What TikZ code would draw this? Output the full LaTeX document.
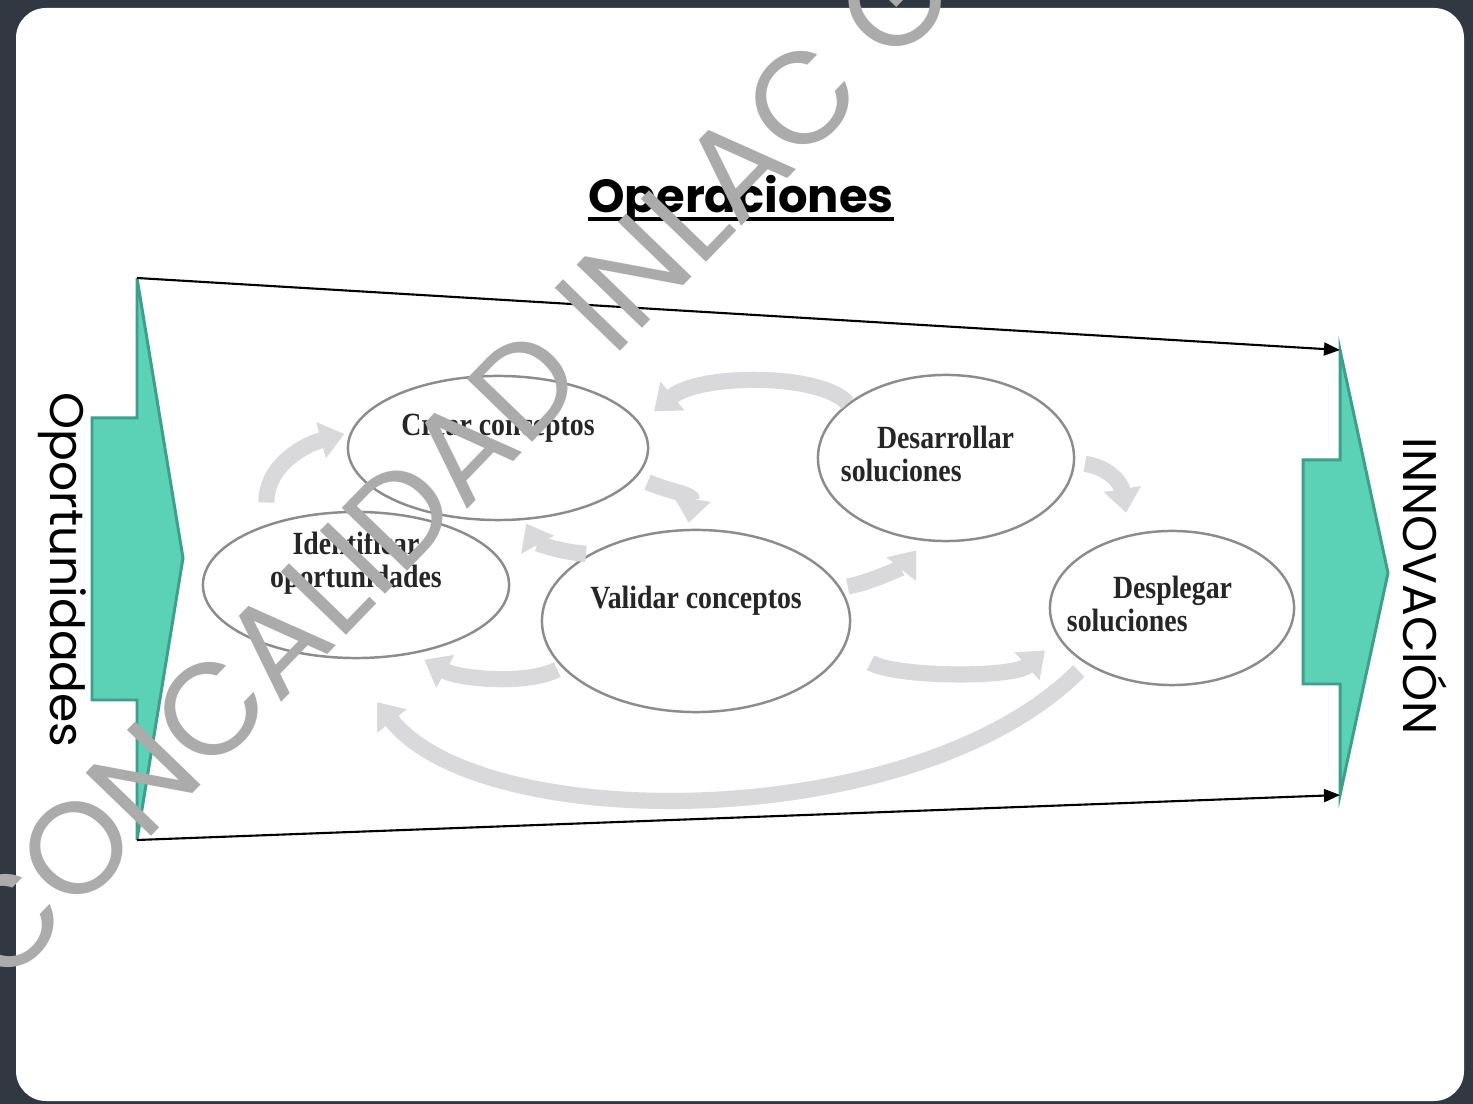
\documentclass[tikz,border=0pt]{standalone}
\usepackage{fontspec}
\usetikzlibrary{shapes.geometric,arrows.meta}
\newfontfamily\gothic{Poppins}
\newfontfamily\boxfont[FakeStretch=0.86]{Liberation Serif}
\definecolor{framedark}{HTML}{323842}
\definecolor{tealfill}{HTML}{5BD1B6}
\definecolor{tealline}{HTML}{3F9F8A}
\definecolor{cyclegray}{HTML}{D9D9DB}
\definecolor{ringgray}{HTML}{8C8C8C}
\definecolor{markgray}{HTML}{ABABAB}

\begin{document}
\begin{tikzpicture}[x = 0.01cm, y = -0.01cm,
                    stage/.style = {ellipse, draw = ringgray, line width = 0.7pt, inner sep = 0pt},
                    stagetext/.style = {font = \boxfont\bfseries\fontsize{9.2}{9.4}\selectfont, text = black!85},
                    cyc/.style = {draw = cyclegray, line width = 4.6pt, -{Triangle[length = 2.4mm, width = 3.6mm]}},
                    flow/.style = {line width = 0.6pt, -{Triangle[length = 1.6mm, width = 1.3mm]}},
                    chevron/.style = {fill = tealfill, draw = tealline, line width = 0.85pt},
                    side/.style = {font = \gothic\fontsize{13.4}{16}\selectfont}]
  \useasboundingbox (0, 0) rectangle (1473, 1104);
  \fill [framedark] (0, 0) rectangle (1473, 1104);
  \fill [white, rounded corners = 3mm] (16, 8) rectangle (1464, 1101);

  % entrada y salida
  \draw [chevron] (137, 278) -- (137, 418) -- (92, 418) -- (92, 700) -- (137, 700) -- (137, 840) -- (183, 558) -- cycle;
  \draw [chevron] (1340, 350) -- (1340, 460) -- (1303, 460) -- (1303, 684) -- (1340, 684) -- (1340, 795) -- (1388, 573) -- cycle;
  \coordinate (LT) at (137, 278);
  \coordinate (LB) at (137, 840);
  \coordinate (RT) at (1340, 350);
  \coordinate (RB) at (1340, 795);
  \draw [flow] (LT) -- (RT);
  \draw [flow] (LB) -- (RB);

  \node [font = \gothic\bfseries\fontsize{13.2}{16}\selectfont, anchor = base, inner sep = 0pt] (title) at (741, 213) {Operaciones};
  \draw [line width = 0.9pt] ([yshift = -0.6mm]title.base west) -- ([yshift = -0.6mm]title.base east);
  \node [side, rotate = -90] (oport) at (62, 570) {Oportunidades};
  \node [side, rotate = -90] (innov) at (1425, 586) {INNOVACIÓN};

  % etapas
  \node [stage, minimum width = 30mm, minimum height = 14.4mm] (crear) at (498, 448) {};
  \node [stage, minimum width = 30.6mm, minimum height = 14.6mm] (ident) at (356, 585) {};
  \node [stage, minimum width = 30.8mm, minimum height = 18.2mm] (valid) at (696, 621) {};
  \node [stage, minimum width = 25.6mm, minimum height = 16.6mm] (desar) at (946, 458) {};
  \node [stage, minimum width = 24.4mm, minimum height = 15.4mm] (despl) at (1172, 608) {};
  \node [stagetext] (crear-t) at ([yshift = 2mm]crear.center) {Crear conceptos};
  \node [stagetext, align = center] (ident-t) at ([yshift = 2.2mm]ident.center) {Identificar\\oportunidades};
  \node [stagetext] (valid-t) at ([yshift = 2mm]valid.center) {Validar conceptos};
  \node [stagetext, align = left] (desar-t) at ([xshift = -1.85mm, yshift = 0.4mm]desar.center) {\hspace{3.6mm}Desarrollar\\soluciones};
  \node [stagetext, align = left] (despl-t) at ([xshift = -2.25mm, yshift = 0.4mm]despl.center) {\hspace{4.6mm}Desplegar\\soluciones};

  % ciclo
  \draw [cyc, shorten <= 2.2mm, shorten >= 0.6mm] (ident.146) .. controls +(0, -60) and +(-45, 12) .. (crear.174);
  \draw [cyc, shorten <= 1.2mm, shorten >= 0.6mm] (crear.-12) .. controls +(35, 15) and +(5, -35) .. (valid.95);
  \draw [cyc, shorten <= 0.3mm, shorten >= 0.4mm] (valid.148) .. controls +(-35, -3) and +(12, 22) .. (crear.-70);
  \draw [cyc, shorten >= 1.8mm] (desar.151) .. controls +(-25, -30) and +(60, -50) .. (crear.10);
  \draw [cyc, shorten <= 0.7mm, shorten >= 1.2mm] (valid.13) .. controls +(30, -5) and +(-20, 25) .. (desar.-105);
  \draw [cyc, shorten <= 1mm, shorten >= 2.2mm] (desar.-2) .. controls +(35, 5) and +(-8, -50) .. (despl.120);
  \draw [cyc, shorten <= 3mm, shorten >= 1.8mm] (valid.-10) .. controls +(50, 30) and +(-45, 40) .. (despl.-165);
  \draw [cyc, shorten <= 0.5mm, shorten >= 1.2mm] (valid.-161) .. controls +(-35, 18) and +(45, 25) .. (ident.-50);
  \draw [cyc, shorten <= 1mm, shorten >= 5.5mm] (despl.-147) .. controls +(-170, 170) and +(140, 177) .. (ident.-100);

  % marca de agua
  \begin{scope}
    \clip (0, 0) rectangle (1473, 1104);
    \node [rotate = 46, font = \gothic\fontsize{37}{37}\selectfont, text = markgray] (mark) at (451, 461) {CONCALIDAD INLAC G};
  \end{scope}
\end{tikzpicture}
\end{document}
